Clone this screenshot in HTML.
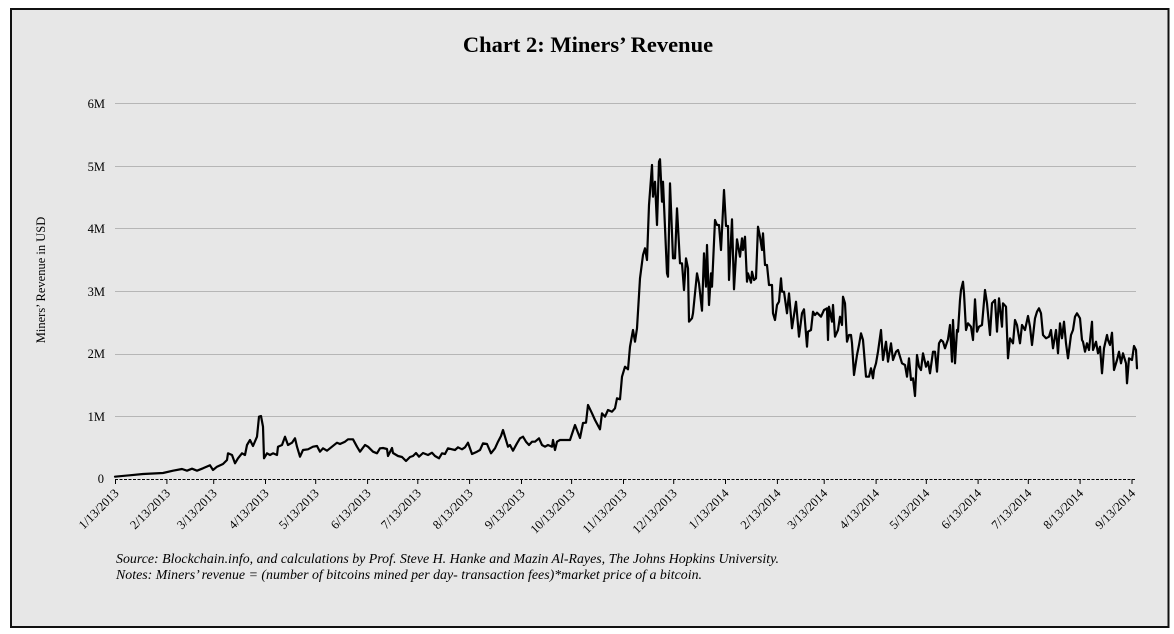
<!DOCTYPE html>
<html>
<head>
<meta charset="utf-8">
<style>
html,body{margin:0;padding:0;background:#fff;}
svg{display:block;}
text{font-family:"Liberation Serif","Times New Roman",serif;fill:#000;}
</style>
</head>
<body>
<svg width="1174" height="634" viewBox="0 0 1174 634" xmlns="http://www.w3.org/2000/svg">
<rect x="0" y="0" width="1174" height="634" fill="#ffffff"/>
<rect x="11" y="9" width="1157.5" height="618" fill="#e7e7e7" stroke="#111" stroke-width="2"/>

<text x="588" y="52" text-anchor="middle" font-size="22.5" font-weight="bold">Chart 2: Miners’ Revenue</text>

<text transform="translate(45,280) rotate(-90)" text-anchor="middle" font-size="12.5">Miners’ Revenue in USD</text>

<g stroke="#b6b6b6" stroke-width="1">
<line x1="115" y1="103.5" x2="1136" y2="103.5"/>
<line x1="115" y1="166.5" x2="1136" y2="166.5"/>
<line x1="115" y1="228.5" x2="1136" y2="228.5"/>
<line x1="115" y1="291.5" x2="1136" y2="291.5"/>
<line x1="115" y1="354.5" x2="1136" y2="354.5"/>
<line x1="115" y1="416.5" x2="1136" y2="416.5"/>
</g>

<g font-size="12.5" text-anchor="end">
<text x="105" y="108">6M</text>
<text x="105" y="171">5M</text>
<text x="105" y="233">4M</text>
<text x="105" y="296">3M</text>
<text x="105" y="358">2M</text>
<text x="105" y="421">1M</text>
<text x="104" y="483">0</text>
</g>

<line x1="115" y1="479.5" x2="1136" y2="479.5" stroke="#000" stroke-width="1" stroke-dasharray="3,1.5"/>
<g stroke="#000" stroke-width="1">
<line x1="115.5" y1="479" x2="115.5" y2="484"/>
<line x1="166.9" y1="479" x2="166.9" y2="484"/>
<line x1="213.7" y1="479" x2="213.7" y2="484"/>
<line x1="265.5" y1="479" x2="265.5" y2="484"/>
<line x1="315.7" y1="479" x2="315.7" y2="484"/>
<line x1="367.6" y1="479" x2="367.6" y2="484"/>
<line x1="417.8" y1="479" x2="417.8" y2="484"/>
<line x1="469.6" y1="479" x2="469.6" y2="484"/>
<line x1="521.5" y1="479" x2="521.5" y2="484"/>
<line x1="571.6" y1="479" x2="571.6" y2="484"/>
<line x1="623.5" y1="479" x2="623.5" y2="484"/>
<line x1="673.7" y1="479" x2="673.7" y2="484"/>
<line x1="725.5" y1="479" x2="725.5" y2="484"/>
<line x1="777.4" y1="479" x2="777.4" y2="484"/>
<line x1="824.2" y1="479" x2="824.2" y2="484"/>
<line x1="876.1" y1="479" x2="876.1" y2="484"/>
<line x1="926.3" y1="479" x2="926.3" y2="484"/>
<line x1="978.1" y1="479" x2="978.1" y2="484"/>
<line x1="1028.3" y1="479" x2="1028.3" y2="484"/>
<line x1="1080.1" y1="479" x2="1080.1" y2="484"/>
<line x1="1132" y1="479" x2="1132" y2="484"/>
</g>

<g font-size="12.5" text-anchor="end">
<text transform="translate(119.5,494) rotate(-45)">1/13/2013</text>
<text transform="translate(170.9,494) rotate(-45)">2/13/2013</text>
<text transform="translate(217.7,494) rotate(-45)">3/13/2013</text>
<text transform="translate(269.5,494) rotate(-45)">4/13/2013</text>
<text transform="translate(319.7,494) rotate(-45)">5/13/2013</text>
<text transform="translate(371.6,494) rotate(-45)">6/13/2013</text>
<text transform="translate(421.8,494) rotate(-45)">7/13/2013</text>
<text transform="translate(473.6,494) rotate(-45)">8/13/2013</text>
<text transform="translate(525.5,494) rotate(-45)">9/13/2013</text>
<text transform="translate(575.6,494) rotate(-45)">10/13/2013</text>
<text transform="translate(627.5,494) rotate(-45)">11/13/2013</text>
<text transform="translate(677.7,494) rotate(-45)">12/13/2013</text>
<text transform="translate(729.5,494) rotate(-45)">1/13/2014</text>
<text transform="translate(781.4,494) rotate(-45)">2/13/2014</text>
<text transform="translate(828.2,494) rotate(-45)">3/13/2014</text>
<text transform="translate(880.1,494) rotate(-45)">4/13/2014</text>
<text transform="translate(930.3,494) rotate(-45)">5/13/2014</text>
<text transform="translate(982.1,494) rotate(-45)">6/13/2014</text>
<text transform="translate(1032.3,494) rotate(-45)">7/13/2014</text>
<text transform="translate(1084.1,494) rotate(-45)">8/13/2014</text>
<text transform="translate(1136,494) rotate(-45)">9/13/2014</text>
</g>

<polyline fill="none" stroke="#000" stroke-width="2.2" stroke-linejoin="round" stroke-linecap="round" points="
115,476.7 143,474 163,473 173,470.7 182,469 187,470.7 192,468.7 197,470.7 203,468.3 210,465.3 213,470 217,466.7 223,464 227,460 228,453.3 232,455 235,463.3 238,458.3 242,453.3 245,455 247,445 250,440 253,446 257,436.7 259,416.7 261,416 263,426.7 264,458.3 267,453.3 270,455 273,453.3 277,455 278,446.7 282,445 285,436.7 288,445 292,442.7 295,438.3 297,446.7 300,456.7 303,450 308,449.3 313,446.7 317,446 320,451.7 323,448.3 327,450.7 332,446.7 337,442.7 340,444 345,441.7 348,439.3 353,439.3 357,446.7 360,451.7 365,445 368,446.7 373,451.7 377,453.3 380,448.3
383,448 387,449 388,456 392,448 393,453 398,456 402,457 406,461 410,457 413,456 416,453 419,456.7 423,453 428,455 432,452.7 435,456 439,458.3 442,453.3 445,454 448,448.3 452,449.3 455,450 458,447.3 462,449.3 465,447.3 468,442.7 472,454 477,451.7 480,450 483,443.3 487,444 491,453.3 495,448.3 498,441.7 501,436 503,430 505,436.7 508,446.7 510,445 513,450.7 517,443.3 520,438.3 523,436.7 526,441.7 529,445 532,441.7 535,441.7 539,438.3 542,445 545,446.7 548,445 552,446.7 553,440 555,450 557,441.7 560,440
565,440 570,440 575,425 580,438 583,423 586,422.7 588,405 592,413.3 595,420 600,429.3 602,413.3 605,416.7 608,410 612,411.7 615,408.3 617,398.3 620,399.3 622,376.7 625,366.7 628,369.3 630,346.7 633,330 635,341.7 637,328.3 640,278.3 643,255 645,248.3 647,260 649,205 652,165 653,196.7 655,181.7 657,225 659,161.7 660,159.3 662,201.7 663,181.7 667,273.3 668,276.7 670,183.3 673,258.3 675,258.3 677,208.3 680,263.3 682,263.3 684,290 686,258.3 688,268.3 689,321.7 692,318.3 693,313.3 697,273.3 699,283.3 702,310.7 704,253.3 706,286.7 707,245 709,305 711,273.3 712,286.7 715,220 717,225 719,225 721,250 724,190 726,226 728,226 729,280 732,219.3 734,289.3 737,239.3 740,256.7
742,238.3 743,250 745,236.7 747,281.7 748,273.3 751,282.7 752,271.7 754,280 756,278.3 758,226.7 760,236.7 762,250 763,233.3 765,265 767,265 769,285 772,285 773,313.3 775,320 777,305 779,301.7 781,278.3 782,291.7 784,291.7 787,313.3 789,293.3 792,328.3 796,301.7 799,336.7 802,313.3 804,309.3 807,346.7 808,331.7 811,330 813,311.7 815,315 817,312.7 821,316.7 824,310 827,308.3 828,340 829,306.7 832,321.7 833,305 835,336.7 838,330 840,316.7 842,325 843,296.7 845,303.3 847,341.7 849,335 851,335 852,343.3 854,375 857,355 859,345 861,333.3 863,340 866,376.7 869,376.7 871,368.3 873,378.3 874,370 876,363.3 878,351.7 881,330 883,360 886,341.7 888,361.7 891,343.3 893,360 896,351.7 898,350 902,363.3 905,365 907,376.7 909,358.3 911,380 913,378.3 915,396 917,355 919,366.7 921,370 923,353.3 926,366.7 928,361.7 930,373.3 933,351.7 935,351.7 937,371.7 939,343.3
941,340 943,341.7 945,348.3 948,339.3 950,325 952,361.7 953,320 955,363.3 957,330 958,331.7 960,300 961,290 963,281.7 964,293.3 966,330 968,323.3 971,326.7 973,340 975,299.3 977,331.7 979,326.7 982,325 985,290 987,303.3 990,335 992,303.3 995,300 997,331.7 999,298.3 1002,326.7 1003,303.3 1006,306.7 1008,358.3 1010,338.3 1013,343.3 1015,320 1017,325 1020,343.3 1022,325 1025,330 1028,316 1030,326.7 1032,345 1035,318.3 1037,311.7 1039,308.3 1041,313.3 1043,335 1046,338.3 1049,336.7 1051,330 1053,348.3 1056,330 1058,353.3 1060,323.3 1062,338.3 1064,321.7 1066,343.3 1068,358.3 1071,335 1073,330 1075,316.7 1077,313.3 1080,318.3 1082,340 1083,341.7 1085,351.7 1087,343.3 1089,350 1092,321.7 1093,350 1096,341.7 1098,353.3 1100,346.7 1102,373.3 1104,348.3 1107,335 1108,340 1110,345 1112,332.7 1114,370 1117,360 1119,351.7 1121,363.3 1123,353.3 1126,363.3 1127,383.3 1129,358.3 1132,360 1134,346 1136,350 1137,368.3"/>

<g font-size="14" font-style="italic">
<text x="116" y="563" textLength="663" lengthAdjust="spacingAndGlyphs">Source: Blockchain.info, and calculations by Prof. Steve H. Hanke and Mazin Al-Rayes, The Johns Hopkins University.</text>
<text x="116" y="579" textLength="586" lengthAdjust="spacingAndGlyphs">Notes: Miners’ revenue = (number of bitcoins mined per day- transaction fees)*market price of a bitcoin.</text>
</g>
</svg>
</body>
</html>
